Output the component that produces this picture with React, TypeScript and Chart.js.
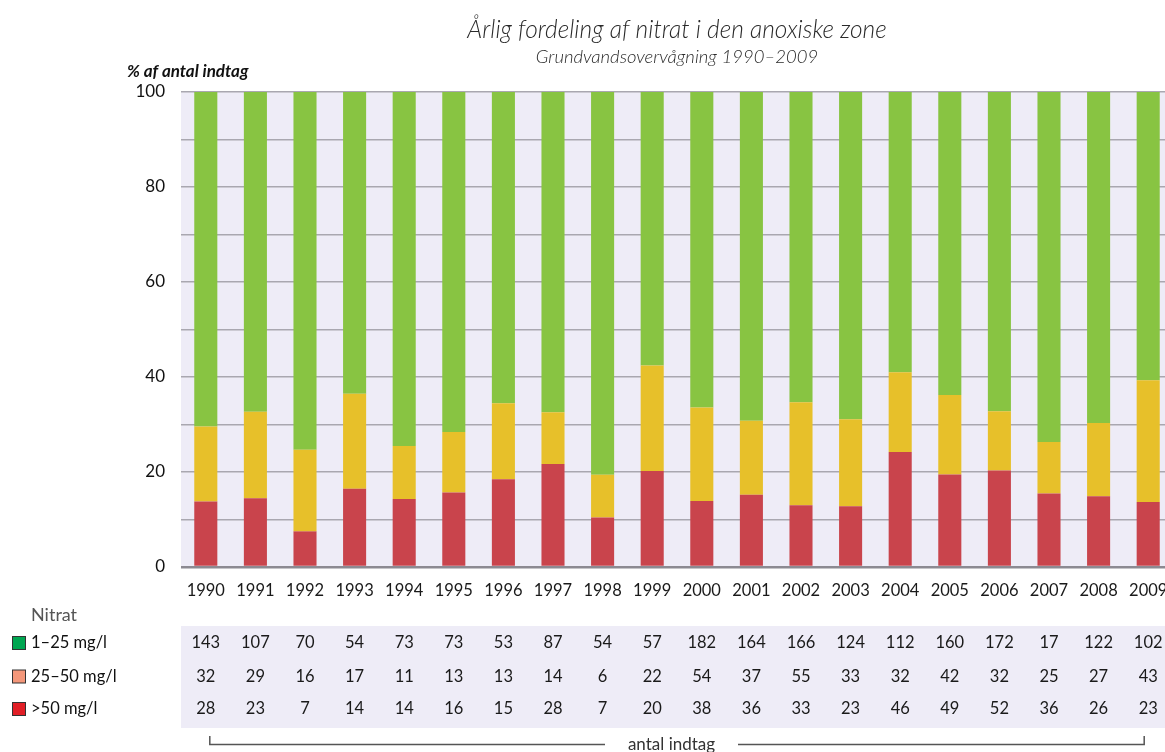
import React, { useEffect, useRef } from "react";
import { Chart, registerables } from "chart.js";

Chart.register(...registerables);

const years = ["1990","1991","1992","1993","1994","1995","1996","1997","1998","1999","2000","2001","2002","2003","2004","2005","2006","2007","2008","2009"];
const redPct = [13.8,14.5,7.5,16.5,14.3,15.7,18.5,21.7,10.4,20.2,13.9,15.2,13.0,12.8,24.2,19.5,20.3,15.5,14.9,13.7];
const yellowPct = [15.8,18.2,17.2,20.0,11.2,12.7,16.0,10.9,9.0,22.2,19.7,15.6,21.7,18.3,16.8,16.7,12.5,10.8,15.4,25.6];
const greenPct = [70.4,67.3,75.3,63.5,74.5,71.6,65.5,67.4,80.6,57.6,66.4,69.2,65.3,68.9,59.0,63.8,67.2,73.7,69.7,60.7];

const count1to25 = [143,107,70,54,73,73,53,87,54,57,182,164,166,124,112,160,172,17,122,102];
const count25to50 = [32,29,16,17,11,13,13,14,6,22,54,37,55,33,32,42,32,25,27,43];
const countOver50 = [28,23,7,14,14,16,15,28,7,20,38,36,33,23,46,49,52,36,26,23];

const legendLabels = ["1–25 mg/l", "25–50 mg/l", ">50 mg/l"];
const legendColors = ["#00a651", "#f4977a", "#e11f26"];

const TITLE = "Årlig fordeling af nitrat i den anoxiske zone";
const SUBTITLE = "Grundvandsovervågning 1990–2009";
const Y_TITLE = "% af antal indtag";

const FONT = "Lato, 'Open Sans', sans-serif";
const LAVENDER = "#eeecf7";

const decor = {
  id: "decor",
  beforeDraw(chart: any) {
    const { ctx, chartArea } = chart;
    ctx.save();
    ctx.fillStyle = LAVENDER;
    ctx.fillRect(chartArea.left, chartArea.top, chartArea.right - chartArea.left, chartArea.bottom - chartArea.top);
    ctx.restore();
  },
  afterDraw(chart: any) {
    const { ctx, chartArea } = chart;
    const xs = chart.scales.x;
    const cx = (chartArea.left + chartArea.right) / 2;
    ctx.save();
    // titles
    ctx.textAlign = "center";
    ctx.textBaseline = "middle";
    ctx.fillStyle = "#2a2a2a";
    ctx.font = `italic 300 24.5px ${FONT}`;
    ctx.fillText(TITLE, cx, 30);
    ctx.font = `italic 300 18.5px ${FONT}`;
    ctx.fillText(SUBTITLE, cx, 57);
    // y title
    ctx.textAlign = "left";
    ctx.fillStyle = "#111";
    ctx.font = `italic bold 17px ${FONT}`;
    ctx.fillText(Y_TITLE, 127, 72);

    // table background
    ctx.fillStyle = LAVENDER;
    ctx.fillRect(chartArea.left, 626, chart.width - chartArea.left, 102);

    // Nitrat label
    ctx.fillStyle = "#555";
    ctx.font = `18px ${FONT}`;
    ctx.fillText("Nitrat", 31, 615);

    const rows = [count1to25, count25to50, countOver50];
    const rowY = [643, 676.5, 709];
    rows.forEach((row, r) => {
      ctx.fillStyle = legendColors[r];
      ctx.fillRect(12.5, rowY[r] - 6.5, 13, 13);
      ctx.strokeStyle = "#333";
      ctx.lineWidth = 1;
      ctx.strokeRect(12.5, rowY[r] - 6.5, 13, 13);
      ctx.fillStyle = "#111";
      ctx.textAlign = "left";
      ctx.font = `16.5px ${FONT}`;
      ctx.fillText(legendLabels[r], 31, rowY[r]);
      ctx.textAlign = "center";
      ctx.fillStyle = "#1a1a1a";
      row.forEach((v, i) => {
        ctx.fillText(String(v), xs.getPixelForValue(i), rowY[r]);
      });
    });

    // bracket
    const bl = xs.getPixelForValue(0) + 4;
    const br = xs.getPixelForValue(years.length - 1) - 4;
    const by = 744.5;
    ctx.strokeStyle = "#555";
    ctx.lineWidth = 1.5;
    ctx.beginPath();
    ctx.moveTo(bl, 736);
    ctx.lineTo(bl, by);
    ctx.lineTo(605, by);
    ctx.moveTo(738, by);
    ctx.lineTo(br, by);
    ctx.lineTo(br, 736);
    ctx.stroke();
    ctx.fillStyle = "#333";
    ctx.font = `17px ${FONT}`;
    ctx.textAlign = "center";
    ctx.fillText("antal indtag", 671.5, 745);
    ctx.restore();
  },
};

export default function App() {
  const ref = useRef<HTMLCanvasElement>(null);
  useEffect(() => {
    if (!ref.current) return;
    const chart = new Chart(ref.current, {
      type: "bar",
      data: {
        labels: years,
        datasets: [
          { label: ">50 mg/l", data: redPct, backgroundColor: "#c9444c" },
          { label: "25–50 mg/l", data: yellowPct, backgroundColor: "#e7c02a" },
          { label: "1–25 mg/l", data: greenPct, backgroundColor: "#88c442" },
        ],
      },
      options: {
        animation: false,
        responsive: false,
        devicePixelRatio: 1,
        layout: { padding: { top: 92, bottom: 145, left: 0, right: 12 } },
        datasets: { bar: { barPercentage: 0.93, categoryPercentage: 0.5 } },
        plugins: { legend: { display: false }, title: { display: false }, tooltip: { enabled: false } },
        scales: {
          x: {
            stacked: true,
            grid: { display: false, drawTicks: false },
            border: { display: false },
            ticks: { autoSkip: false, maxRotation: 0, padding: 14, color: "#1a1a1a", font: { family: FONT, size: 16.5 } },
            afterFit: (s: any) => { s.height = 40; },
          },
          y: {
            stacked: true,
            min: 0,
            max: 100,
            border: { display: false },
            grid: {
              drawTicks: false,
              color: (c: any) => (c.tick && c.tick.value === 0 ? "#8c8a92" : "#a9a7b0"),
              lineWidth: (c: any) => (c.tick && c.tick.value === 0 ? 2.5 : 1.4),
            },
            ticks: {
              stepSize: 10,
              padding: 16,
              color: "#111",
              font: { family: FONT, size: 17 },
              callback: (v: any) => (Number(v) % 20 === 0 ? String(v) : ""),
            },
            afterFit: (s: any) => { s.width = 181; },
          },
        },
      },
      plugins: [decor],
    });
    return () => chart.destroy();
  }, []);
  return (
    <div style={{ position: "fixed", left: 0, top: 0, width: 1165, height: 752, overflow: "hidden", background: "#fff" }}>
      <canvas ref={ref} width={1185} height={752} style={{ display: "block" }} />
    </div>
  );
}
